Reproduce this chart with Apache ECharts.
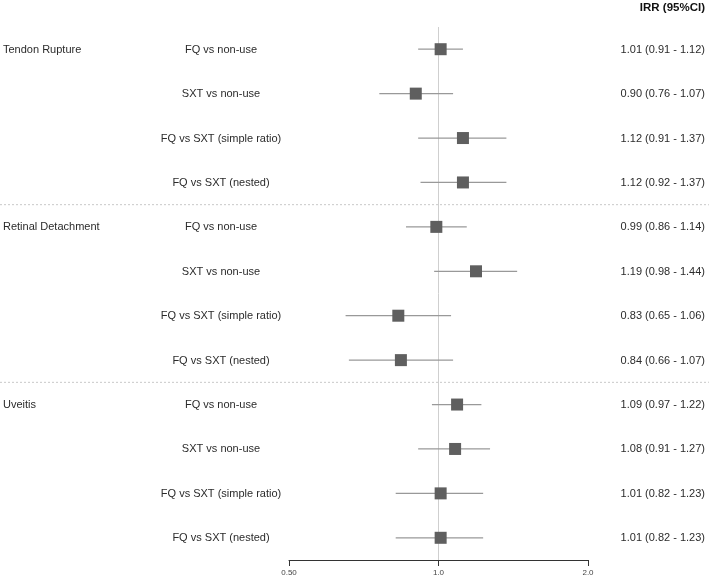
<!DOCTYPE html>
<html>
<head>
<meta charset="utf-8">
<script src="https://cdn.jsdelivr.net/npm/echarts@6/dist/echarts.min.js"></script>
<style>html,body{margin:0;padding:0;background:#fff}#c{width:709px;height:579px}</style>
</head>
<body>
<div id="c"></div>
<script>
var outcomes = ['Tendon Rupture', '', '', '', 'Retinal Detachment', '', '', '', 'Uveitis', '', '', ''];
var comparisons = ['FQ vs non-use', 'SXT vs non-use', 'FQ vs SXT (simple ratio)', 'FQ vs SXT (nested)',
                   'FQ vs non-use', 'SXT vs non-use', 'FQ vs SXT (simple ratio)', 'FQ vs SXT (nested)',
                   'FQ vs non-use', 'SXT vs non-use', 'FQ vs SXT (simple ratio)', 'FQ vs SXT (nested)'];
var irr   = [1.01, 0.90, 1.12, 1.12, 0.99, 1.19, 0.83, 0.84, 1.09, 1.08, 1.01, 1.01];
var lower = [0.91, 0.76, 0.91, 0.92, 0.86, 0.98, 0.65, 0.66, 0.97, 0.91, 0.82, 0.82];
var upper = [1.12, 1.07, 1.37, 1.37, 1.14, 1.44, 1.06, 1.07, 1.22, 1.27, 1.23, 1.23];
var tickValues = [0.5, 1, 2];
var tickLabels = ['0.50', '1.0', '2.0'];
var separators = [3.5, 7.5];

var FONT = 'Liberation Sans, Arial, Helvetica, sans-serif';
var chart = echarts.init(document.getElementById('c'));

var ciData = irr.map(function (v, i) { return [lower[i], upper[i], i]; });
var pointData = irr.map(function (v, i) { return [v, i]; });
var textData = irr.map(function (v, i) {
  return [1, i, outcomes[i], comparisons[i],
    v.toFixed(2) + ' (' + lower[i].toFixed(2) + ' - ' + upper[i].toFixed(2) + ')'];
});

chart.setOption({
  animation: false,
  backgroundColor: '#fff',
  grid: { left: 289, right: 121, top: 27, bottom: 19 },
  xAxis: {
    type: 'log', logBase: 2, min: 0.5, max: 2,
    axisLine: { show: true, onZero: false, lineStyle: { color: '#333', width: 1 } },
    axisTick: { show: true, length: 6, inside: false, lineStyle: { color: '#333' } },
    splitLine: { show: false },
    axisLabel: {
      fontSize: 8, color: '#444', fontFamily: FONT, margin: 9,
      formatter: function (v) {
        for (var k = 0; k < tickValues.length; k++) {
          if (Math.abs(v - tickValues[k]) < 1e-6) return tickLabels[k];
        }
        return '';
      }
    }
  },
  yAxis: { type: 'value', inverse: true, min: -0.5, max: 11.5, show: false },
  series: [
    {
      type: 'scatter',
      data: [],
      z: 1,
      markLine: {
        silent: true, symbol: 'none', label: { show: false }, z: 1,
        lineStyle: { color: '#cfcfcf', width: 1, type: 'solid' },
        data: [{ xAxis: 1 }]
      }
    },
    {
      type: 'custom',
      data: ciData,
      z: 2,
      renderItem: function (params, api) {
        var p1 = api.coord([api.value(0), api.value(2)]);
        var p2 = api.coord([api.value(1), api.value(2)]);
        return { type: 'line', shape: { x1: p1[0], y1: p1[1], x2: p2[0], y2: p2[1] },
                 style: { stroke: '#999', lineWidth: 1.3 } };
      },
      encode: { x: [0, 1], y: 2 }
    },
    {
      type: 'scatter',
      data: pointData,
      symbol: 'rect',
      symbolSize: 12,
      z: 3,
      itemStyle: { color: '#5f5f5f', opacity: 1 }
    },
    {
      type: 'custom',
      data: textData,
      clip: false,
      z: 4,
      renderItem: function (params, api) {
        var p = api.coord([1, api.value(1)]);
        var i = params.dataIndex;
        var y = p[1] + 0.5;
        return { type: 'group', children: [
          { type: 'text', style: { text: outcomes[i], x: 3, y: y, textAlign: 'left', textVerticalAlign: 'middle',
              font: '11px ' + FONT, fill: '#2b2b2b' } },
          { type: 'text', style: { text: comparisons[i], x: 221, y: y, textAlign: 'center', textVerticalAlign: 'middle',
              font: '11px ' + FONT, fill: '#2b2b2b' } },
          { type: 'text', style: { text: textData[i][4], x: 705, y: y, textAlign: 'right', textVerticalAlign: 'middle',
              font: '11px ' + FONT, fill: '#2b2b2b' } }
        ] };
      },
      encode: { x: 0, y: 1 }
    },
    {
      type: 'custom',
      data: separators.map(function (s) { return [1, s]; }),
      clip: false,
      z: 1,
      renderItem: function (params, api) {
        var p = api.coord([1, api.value(1)]);
        return { type: 'line', shape: { x1: 0, y1: p[1], x2: 709, y2: p[1] },
                 style: { stroke: '#c8c8c8', lineWidth: 1, lineDash: [2, 2] } };
      },
      encode: { x: 0, y: 1 }
    }
  ],
  graphic: [
    { type: 'text', right: 4, top: 2,
      style: { text: 'IRR (95%CI)', font: 'bold 11.5px ' + FONT, fill: '#111', textAlign: 'right' } }
  ]
});
</script>
</body>
</html>
